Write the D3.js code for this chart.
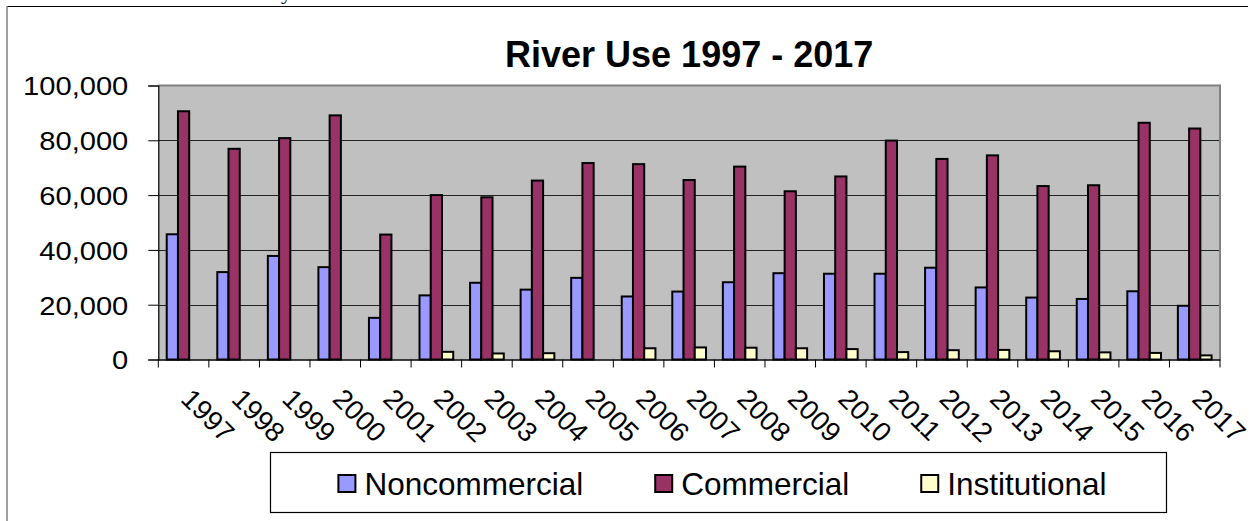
<!DOCTYPE html>
<html>
<head>
<meta charset="utf-8">
<script src="https://cdn.jsdelivr.net/npm/d3@7"></script>
<style>
  html, body { margin: 0; padding: 0; background: #fff; }
  svg { display: block; }
  text { font-family: "Liberation Sans", Arial, sans-serif; fill: #000; }
</style>
</head>
<body>
<svg id="chart" width="1252" height="521"></svg>
<script>
const years = ["1997","1998","1999","2000","2001","2002","2003","2004","2005","2006","2007",
               "2008","2009","2010","2011","2012","2013","2014","2015","2016","2017"];
const noncommercial = [45700, 31900, 37800, 33700, 15200, 23400, 28000, 25500, 29800, 23000, 24800,
                       28200, 31500, 31300, 31300, 33500, 26300, 22600, 22100, 24900, 19600];
const commercial = [90600, 76900, 80800, 89100, 45600, 60000, 59200, 65300, 71700, 71300, 65500,
                    70400, 61400, 66800, 79900, 73200, 74500, 63300, 63600, 86400, 84300];
const institutional = [null, null, null, null, null, 2800, 2200, 2300, null, 4100, 4400,
                       4300, 4100, 3800, 2700, 3400, 3500, 3000, 2600, 2400, 1500];
const seriesNames = ["Noncommercial", "Commercial", "Institutional"];
const seriesColors = ["#9999FF", "#993366", "#FFFFCC"];
const yTicks = [0, 20000, 40000, 60000, 80000, 100000];
const titleText = "River Use 1997 - 2017";

const svg = d3.select("#chart");

// outer frame (partially visible)
svg.append("line").attr("x1", 7).attr("x2", 1248).attr("y1", 6.5).attr("y2", 6.5)
  .attr("stroke", "#000").attr("stroke-width", 1.2);
svg.append("line").attr("x1", 7).attr("x2", 7).attr("y1", 6).attr("y2", 521)
  .attr("stroke", "#808080").attr("stroke-width", 1.5);
// cut-off glyph from the document above
svg.append("text").attr("x", 281).attr("y", -1.5)
  .style("font-family", "'Liberation Serif', serif").style("font-size", "22px").text("y");

const plot = { left: 158.3, right: 1220, top: 85.5, bottom: 359.5 };

const x0 = d3.scaleBand().domain(years).range([plot.left, plot.right]).paddingInner(0).paddingOuter(0);
const x1 = d3.scaleBand().domain(seriesNames).range([0, x0.bandwidth()]).paddingInner(0).paddingOuter(0.75);
const y = d3.scaleLinear().domain([0, 100000]).range([plot.bottom, plot.top]);

// plot background
svg.append("rect").attr("x", plot.left).attr("y", plot.top)
  .attr("width", plot.right - plot.left).attr("height", plot.bottom - plot.top)
  .attr("fill", "#C0C0C0");

// gridlines
svg.append("g").selectAll("line").data(yTicks.filter(d => d > 0 && d < 100000)).join("line")
  .attr("x1", plot.left).attr("x2", plot.right)
  .attr("y1", d => Math.round(y(d)) + 0.5).attr("y2", d => Math.round(y(d)) + 0.5)
  .attr("stroke", "#222").attr("stroke-width", 1);

// plot border top/right
svg.append("path")
  .attr("d", `M${plot.left},${plot.top}H${plot.right}V${plot.bottom}`)
  .attr("fill", "none").attr("stroke", "#808080").attr("stroke-width", 2);

// bars
const series = [noncommercial, commercial, institutional];
const barData = [];
years.forEach((yr, i) => {
  series.forEach((s, k) => {
    if (s[i] != null) barData.push({ year: yr, name: seriesNames[k], value: s[i], color: seriesColors[k] });
  });
});
svg.append("g").selectAll("rect").data(barData).join("rect")
  .attr("x", d => x0(d.year) + x1(d.name))
  .attr("y", d => y(d.value))
  .attr("width", x1.bandwidth())
  .attr("height", d => y(0) - y(d.value))
  .attr("fill", d => d.color)
  .attr("stroke", "#000").attr("stroke-width", 2);

// y axis
const yAxis = d3.axisLeft(y).tickValues(yTicks).tickFormat(d3.format(",")).tickSize(10).tickPadding(20);
const gy = svg.append("g").attr("transform", `translate(${plot.left},0)`).call(yAxis);
gy.select(".domain").attr("stroke", "#000").attr("stroke-width", 1.2);
gy.selectAll(".tick line").attr("stroke", "#000");
gy.selectAll(".tick text")
  .style("font-family", "'Liberation Sans', Arial, sans-serif")
  .style("font-size", "26px").attr("fill", "#000")
  .attr("dy", "0.36em")
  .each(function() {
    const w = this.getComputedTextLength();
    d3.select(this).attr("textLength", w * 1.12).attr("lengthAdjust", "spacingAndGlyphs");
  });

// x axis
const xAxis = d3.axisBottom(x0).tickSize(0).tickPadding(0);
const gx = svg.append("g").attr("transform", `translate(0,${plot.bottom})`).call(xAxis);
gx.select(".domain").attr("stroke", "#000").attr("stroke-width", 1.5);
gx.selectAll(".tick text")
  .style("font-family", "'Liberation Sans', Arial, sans-serif")
  .style("font-size", "27.5px").attr("fill", "#000")
  .attr("text-anchor", "start")
  .attr("y", 0).attr("dy", 0)
  .attr("transform", "translate(-4,41) rotate(45)");
// boundary tick marks
const bounds = years.map(d => x0(d)).concat([plot.right]);
gx.append("g").selectAll("line").data(bounds).join("line")
  .attr("x1", d => d).attr("x2", d => d).attr("y1", 0).attr("y2", 8)
  .attr("stroke", "#000").attr("stroke-width", 1);

// title
svg.append("text").attr("x", (plot.left + plot.right) / 2).attr("y", 66.7)
  .attr("text-anchor", "middle")
  .style("font-size", "36px").style("font-weight", "bold").text(titleText);

// legend
const legBox = { x: 270.5, y: 452.5, w: 896, h: 60 };
svg.append("rect").attr("x", legBox.x).attr("y", legBox.y).attr("width", legBox.w).attr("height", legBox.h)
  .attr("fill", "#fff").attr("stroke", "#000").attr("stroke-width", 1.2);
const leg = svg.append("g");
const sw = 17, gapText = 9, gapItem = 72;
const items = seriesNames.map((n, k) => {
  const g = leg.append("g");
  g.append("rect").attr("width", sw).attr("height", sw).attr("y", -sw / 2)
    .attr("fill", seriesColors[k]).attr("stroke", "#000").attr("stroke-width", 2);
  const t = g.append("text").attr("x", sw + gapText).attr("y", 0).attr("dy", "0.36em")
    .style("font-size", "31.5px").text(n);
  return { g, w: sw + gapText + t.node().getComputedTextLength() };
});
const total = d3.sum(items, d => d.w) + gapItem * (items.length - 1);
let cx = legBox.x + legBox.w / 2 - total / 2 + 4;
const cy = 483.5;
items.forEach(it => { it.g.attr("transform", `translate(${cx},${cy})`); cx += it.w + gapItem; });
</script>
</body>
</html>
